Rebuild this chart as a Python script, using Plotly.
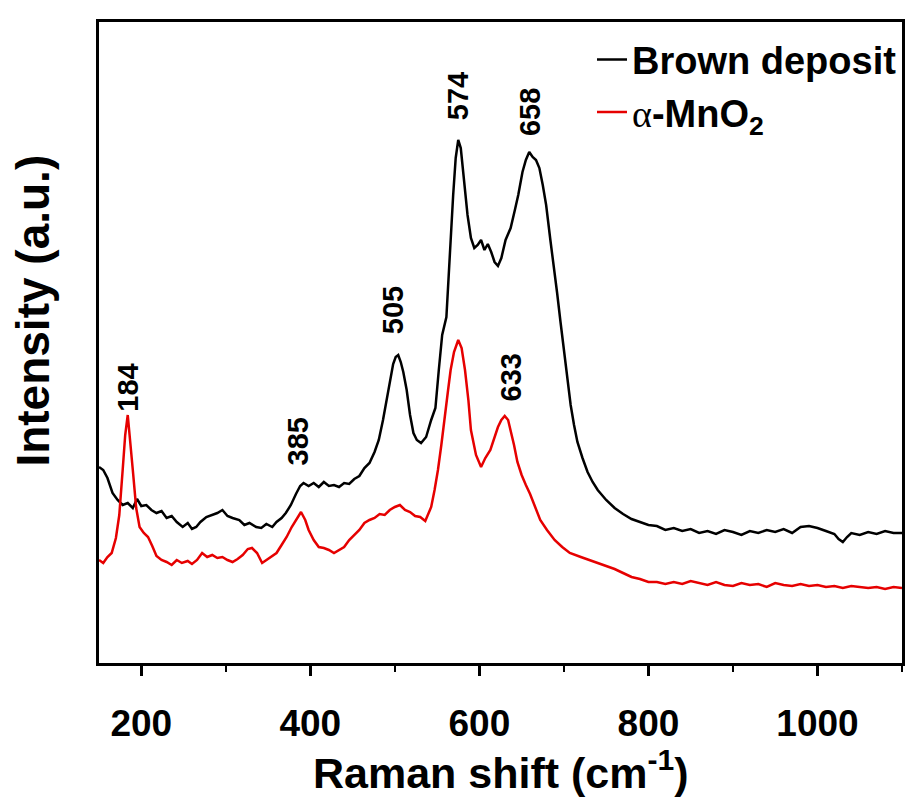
import plotly.graph_objects as go

# ---- data (Raman shift in cm^-1, intensity in a.u.) ----
brown_x = [150, 155, 160, 166, 172, 178, 184, 190, 195, 200, 206, 212, 218, 224, 230, 236, 242, 249, 255, 260,
           265, 270, 277, 283, 290, 296, 302, 308, 316, 322, 328, 336, 342, 348, 355, 360, 366, 371, 377, 383,
           388, 392, 398, 404, 410, 416, 422, 428, 434, 440, 446, 452, 458, 464, 470, 476, 481, 486, 490, 494,
           498, 501, 504, 507, 510, 514, 518, 522, 526, 531, 537, 543, 548, 552, 556, 561, 565, 569, 572, 575,
           578, 582, 586, 590, 594, 598, 602, 606, 610, 614, 618, 622, 626, 631, 637, 642, 646, 651, 655, 659,
           663, 667, 671, 675, 679, 684, 688, 692, 696, 700, 704, 708, 712, 716, 722, 728, 734, 740, 750, 760,
           770, 780, 790, 800, 810, 820, 830, 840, 850, 860, 870, 880, 890, 900, 910, 920, 930, 940, 950, 960,
           970, 980, 990, 1000, 1010, 1020, 1025, 1030, 1035, 1040, 1050, 1060, 1070, 1080, 1090, 1100]
brown_y = [196, 193, 185, 170, 163, 158, 160, 155, 164, 157, 158, 153, 150, 152, 145, 147, 141, 136, 140, 134,
           136, 141, 146, 148, 150, 153, 147, 145, 143, 138, 140, 136, 135, 139, 136, 141, 145, 150, 158, 169,
           177, 180, 177, 180, 176, 181, 177, 178, 176, 180, 179, 184, 187, 195, 200, 211, 223, 243, 263, 283,
           299, 306, 308, 301, 291, 273, 248, 230, 223, 220, 226, 243, 255, 293, 328, 346, 413, 468, 505, 523,
           515, 483, 448, 425, 415, 418, 423, 413, 419, 411, 401, 397, 405, 423, 435, 453, 468, 491, 503, 511,
           506, 503, 495, 478, 458, 423, 398, 370, 341, 313, 285, 258, 238, 221, 205, 191, 181, 173, 163, 155,
           149, 144, 141, 138, 137, 133, 135, 132, 134, 130, 132, 129, 133, 131, 128, 132, 130, 133, 131, 134,
           130, 136, 137, 135, 132, 129, 124, 121, 126, 130, 128, 131, 129, 132, 130, 130]

mno2_x = [150, 155, 160, 165, 170, 174, 178, 181, 184, 187, 190, 194, 198, 203, 208, 213, 218, 224, 230, 236,
          242, 248, 255, 260, 266, 272, 278, 284, 290, 296, 302, 308, 314, 320, 326, 331, 337, 343, 348, 354,
          360, 366, 372, 378, 383, 389, 394, 398, 404, 410, 416, 422, 428, 434, 440, 446, 452, 458, 464, 470,
          476, 482, 488, 494, 500, 506, 512, 518, 524, 530, 536, 540, 543, 547, 551, 555, 559, 563, 566, 570,
          575, 579, 583, 587, 590, 596, 602, 607, 613, 618, 622, 626, 630, 634, 637, 641, 645, 650, 655, 660,
          666, 672, 680, 689, 698, 707, 720, 730, 739, 750, 760, 770, 780, 790, 800, 810, 820, 830, 840, 850,
          860, 870, 880, 890, 900, 910, 920, 930, 940, 950, 960, 970, 980, 990, 1000, 1010, 1020, 1030, 1040,
          1050, 1060, 1070, 1080, 1090, 1100]
mno2_y = [103, 100, 106, 110, 125, 148, 193, 228, 248, 223, 193, 155, 136, 130, 126, 117, 107, 103, 101, 98,
          103, 100, 102, 99, 103, 110, 106, 108, 105, 106, 103, 101, 104, 108, 114, 115, 110, 100, 103, 107,
          110, 118, 126, 136, 143, 151, 143, 133, 123, 116, 115, 113, 110, 113, 116, 123, 128, 133, 140, 143,
          145, 149, 148, 153, 156, 158, 153, 151, 147, 146, 142, 150, 156, 173, 193, 218, 243, 273, 293, 311,
          323, 315, 293, 263, 233, 208, 196, 205, 213, 226, 236, 243, 247, 243, 233, 218, 201, 188, 178, 169,
          156, 143, 133, 123, 116, 110, 106, 103, 100, 97, 94, 90, 86, 84, 81, 81, 79, 81, 79, 82,
          80, 78, 81, 78, 77, 80, 78, 79, 76, 80, 78, 77, 79, 77, 78, 76, 77, 75, 77,
          76, 75, 76, 74, 76, 75]

peak_labels = ["184", "385", "505", "574", "658", "633"]
peak_x = [184, 386, 498, 575, 660, 638]
peak_y = [275, 222, 353, 567, 551, 286]

x_range = [150, 1100]
y_range = [0, 641]

FONT = "Arial, Liberation Sans, Helvetica, sans-serif"

fig = go.Figure()
fig.add_trace(go.Scatter(x=brown_x, y=brown_y, mode="lines", name="Brown deposit",
                         line=dict(color="black", width=2.5)))
fig.add_trace(go.Scatter(x=mno2_x, y=mno2_y, mode="lines",
                         name="<span style='font-family:Times New Roman, Liberation Serif, serif;font-weight:normal'>α</span>-MnO<sub>2</sub>",
                         line=dict(color="#e60000", width=2.5)))

for t, px, py in zip(peak_labels, peak_x, peak_y):
    fig.add_annotation(x=px, y=py, xref="x", yref="y", text=t, showarrow=False,
                       textangle=-90, xanchor="center", yanchor="middle",
                       font=dict(family=FONT, size=29, color="black", weight="bold"))

# axis titles
fig.add_annotation(x=0.5, xref="paper", y=-0.2122, yref="paper", yanchor="bottom",
                   text="Raman shift (cm<sup>-1</sup>)", showarrow=False,
                   font=dict(family=FONT, size=43, color="black", weight="bold"))
fig.add_annotation(x=-0.082, xref="paper", y=0.55, yref="paper", xanchor="center",
                   text="Intensity (a.u.)", showarrow=False, textangle=-90,
                   font=dict(family=FONT, size=46, color="black", weight="bold"))

fig.update_layout(
    width=906, height=800,
    margin=dict(l=99, r=1, t=22, b=137),
    paper_bgcolor="white", plot_bgcolor="white",
    showlegend=True,
    legend=dict(x=1, xanchor="right", y=0.99, yanchor="top",
                font=dict(family=FONT, size=38, color="black", weight="bold"),
                bgcolor="rgba(0,0,0,0)", tracegroupgap=0, itemwidth=30),
    font=dict(family=FONT, color="black"),
)
fig.update_xaxes(range=x_range, showgrid=False, zeroline=False,
                 showline=True, linecolor="black", linewidth=2.5, mirror=True,
                 ticks="outside", ticklen=10, tickwidth=2.5, tickcolor="black",
                 tick0=200, dtick=200, ticklabelstandoff=16,
                 tickfont=dict(family=FONT, size=37, color="black", weight="bold"),
                 minor=dict(ticks="outside", ticklen=6, tickwidth=2, tickcolor="black",
                            tick0=300, dtick=200, showgrid=False))
fig.update_yaxes(range=y_range, showgrid=False, zeroline=False,
                 showline=True, linecolor="black", linewidth=2.5, mirror=True,
                 showticklabels=False, ticks="")

fig.write_html("out.html")
